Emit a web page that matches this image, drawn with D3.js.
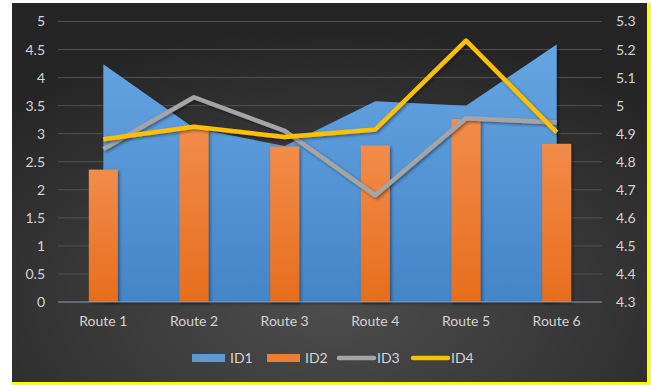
<!DOCTYPE html>
<html>
<head>
<meta charset="utf-8">
<script src="https://cdn.jsdelivr.net/npm/d3@7/dist/d3.min.js"></script>
<style>
  html, body { margin: 0; padding: 0; background: #ffffff; }
  svg { display: block; }
  text { font-family: Lato, "Open Sans", sans-serif; }
</style>
</head>
<body>
<svg id="chart" width="651" height="385"></svg>
<script>
// Route categories and the four series
const categories = ["Route 1", "Route 2", "Route 3", "Route 4", "Route 5", "Route 6"];
const id1 = [4.24, 3.10, 2.78, 3.58, 3.50, 4.59];      // area, left axis
const id2 = [2.36, 3.07, 2.77, 2.79, 3.26, 2.82];      // columns, left axis
const id3 = [4.845, 5.03, 4.91, 4.68, 4.955, 4.94];    // grey line, right axis
const id4 = [4.88, 4.925, 4.888, 4.915, 5.232, 4.905]; // gold line, right axis
const leftTicks = [0, 0.5, 1, 1.5, 2, 2.5, 3, 3.5, 4, 4.5, 5];
const rightTicks = [4.3, 4.4, 4.5, 4.6, 4.7, 4.8, 4.9, 5, 5.1, 5.2, 5.3];
const seriesNames = ["ID1", "ID2", "ID3", "ID4"];

const svg = d3.select("#chart");
const defs = svg.append("defs");

// background glow
const bg = defs.append("radialGradient").attr("id", "bg")
  .attr("cx", "50%").attr("cy", "78%").attr("r", "72%");
bg.append("stop").attr("offset", "0%").attr("stop-color", "#4e4e4e");
bg.append("stop").attr("offset", "100%").attr("stop-color", "#252525");

const areaGrad = defs.append("linearGradient").attr("id", "areaGrad")
  .attr("x1", 0).attr("y1", 0).attr("x2", 0).attr("y2", 1);
areaGrad.append("stop").attr("offset", "0%").attr("stop-color", "#66a5e2");
areaGrad.append("stop").attr("offset", "100%").attr("stop-color", "#4385c8");

const barGrad = defs.append("linearGradient").attr("id", "barGrad")
  .attr("x1", 0).attr("y1", 0).attr("x2", 0).attr("y2", 1);
barGrad.append("stop").attr("offset", "0%").attr("stop-color", "#f28c4a");
barGrad.append("stop").attr("offset", "100%").attr("stop-color", "#e76d1c");

const shadow = defs.append("filter").attr("id", "shadow")
  .attr("x", "-20%").attr("y", "-20%").attr("width", "140%").attr("height", "140%");
shadow.append("feDropShadow").attr("dx", 1.5).attr("dy", 1.5)
  .attr("stdDeviation", 1.5).attr("flood-color", "#000").attr("flood-opacity", 0.45);

// frame
svg.append("rect").attr("x", 12).attr("y", 3).attr("width", 636).attr("height", 380)
  .attr("fill", "url(#bg)");
svg.append("rect").attr("x", 647).attr("y", 3).attr("width", 4).attr("height", 382).attr("fill", "#ffff00");
svg.append("rect").attr("x", 12).attr("y", 382).attr("width", 639).attr("height", 3).attr("fill", "#ffff00");

const x = d3.scaleBand().domain(categories).range([58, 602]).padding(0);
const yL = d3.scaleLinear().domain([0, 5]).range([302, 21.5]);
const yR = d3.scaleLinear().domain([4.3, 5.3]).range([302, 21.5]);
const cx = c => x(c) + x.bandwidth() / 2;

// gridlines
svg.append("g").selectAll("line").data(leftTicks.slice(1)).join("line")
  .attr("x1", 58).attr("x2", 602)
  .attr("y1", d => yL(d)).attr("y2", d => yL(d))
  .attr("stroke", "#535353").attr("stroke-width", 1);

// ID1 area
const area = d3.area()
  .x((d, i) => cx(categories[i]))
  .y0(yL(0)).y1(d => yL(d));
svg.append("path").datum(id1).attr("d", area)
  .attr("fill", "url(#areaGrad)").attr("filter", "url(#shadow)");

// ID2 columns
const bw = x.bandwidth() * 0.32;
svg.append("g").selectAll("rect").data(id2).join("rect")
  .attr("x", (d, i) => cx(categories[i]) - bw / 2)
  .attr("width", bw)
  .attr("y", d => yL(d))
  .attr("height", d => yL(0) - yL(d))
  .attr("fill", "url(#barGrad)").attr("filter", "url(#shadow)");

// baseline
svg.append("line").attr("x1", 58).attr("x2", 602)
  .attr("y1", yL(0)).attr("y2", yL(0))
  .attr("stroke", "#8a9bb0").attr("stroke-width", 1.2);

// ID3 / ID4 lines
const line = d3.line().x((d, i) => cx(categories[i])).y(d => yR(d));
svg.append("path").datum(id3).attr("d", line)
  .attr("fill", "none").attr("stroke", "#a5a5a5").attr("stroke-width", 4.5)
  .attr("stroke-linejoin", "round").attr("filter", "url(#shadow)");
svg.append("path").datum(id4).attr("d", line)
  .attr("fill", "none").attr("stroke", "#ffc000").attr("stroke-width", 4.5)
  .attr("stroke-linejoin", "round").attr("filter", "url(#shadow)");

// axes
const labelColor = "#d4d4d4";
const leftAxis = svg.append("g").attr("transform", "translate(45,0)")
  .call(d3.axisLeft(yL).tickValues(leftTicks).tickSize(0).tickPadding(0).tickFormat(d3.format("")));
const rightAxis = svg.append("g").attr("transform", "translate(616,0)")
  .call(d3.axisRight(yR).tickValues(rightTicks).tickSize(0).tickPadding(0).tickFormat(d3.format("")));
const bottomAxis = svg.append("g").attr("transform", "translate(0,316)")
  .call(d3.axisBottom(x).tickSize(0).tickPadding(0));
[leftAxis, rightAxis, bottomAxis].forEach(g => {
  g.select(".domain").remove();
  g.selectAll("text").attr("fill", labelColor).style("font-size", "14px")
    .style("font-family", "Lato, 'Open Sans', sans-serif");
});

// legend
const legend = svg.append("g").attr("transform", "translate(0,358)");
const legendItems = [
  { name: seriesNames[0], kind: "rect", color: "#5b9bd5", x: 192 },
  { name: seriesNames[1], kind: "rect", color: "#ed7d31", x: 267 },
  { name: seriesNames[2], kind: "line", color: "#a5a5a5", x: 339 },
  { name: seriesNames[3], kind: "line", color: "#ffc000", x: 413 }
];
legendItems.forEach(it => {
  if (it.kind === "rect") {
    legend.append("rect").attr("x", it.x).attr("y", -4).attr("width", 33).attr("height", 8)
      .attr("fill", it.color);
  } else {
    legend.append("line").attr("x1", it.x).attr("x2", it.x + 35).attr("y1", 0).attr("y2", 0)
      .attr("stroke", it.color).attr("stroke-width", 4.5).attr("stroke-linecap", "round");
  }
  legend.append("text").attr("x", it.x + 38).attr("y", 0).attr("dy", "0.35em")
    .attr("fill", labelColor).style("font-size", "14px").text(it.name);
});
</script>
</body>
</html>
